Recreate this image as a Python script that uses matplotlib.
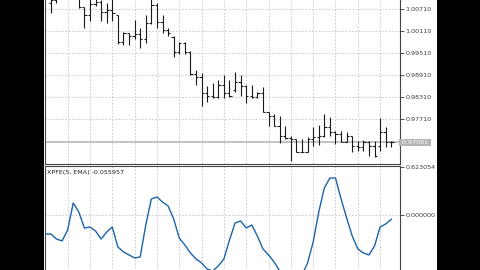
import matplotlib.pyplot as plt
from matplotlib.patches import Rectangle
import numpy as np

# price bars (open/high/low/close), oldest first
opens = [1.0108, 1.00872, 1.00950, 1.0105, 1.0120, 1.0112, 1.0102, 1.00764, 1.00548, 1.00845,
         1.00899, 1.00629, 1.00683, 1.00548, 0.99818, 1.00061, 0.99980, 1.00030, 0.99900, 1.00331,
         1.00820, 1.00358, 1.00150, 0.99960, 0.99548, 0.99791, 0.99548, 0.98950, 0.98870, 0.98413,
         0.98332, 0.98320, 0.98656, 0.98413, 0.98500, 0.98737, 0.98629, 0.98332, 0.98304, 0.98413,
         0.97899, 0.97791, 0.97540, 0.97250, 0.97200, 0.97169, 0.96818, 0.96830, 0.97169, 0.97223,
         0.97250, 0.97494, 0.97358, 0.97304, 0.97088, 0.97250, 0.96980, 0.96953, 0.97088, 0.96980,
         0.96980, 0.97358, 0.97100]
highs = [1.0118, 1.0112, 1.0112, 1.0130, 1.0135, 1.0128, 1.0112, 1.00764, 1.0100, 1.0100,
         1.00960, 1.00872, 1.00970, 1.00548, 1.00088, 1.00061, 1.00412, 1.00196, 1.00548, 1.00980,
         1.00872, 1.00548, 1.00196, 0.99980, 0.99818, 0.99818, 0.99575, 0.99061, 0.98980, 0.98629,
         0.98710, 0.98791, 0.98926, 0.98791, 0.99007, 0.98926, 0.98656, 0.98656, 0.98440, 0.98575,
         0.97899, 0.97845, 0.97791, 0.97521, 0.97250, 0.97169, 0.97169, 0.97223, 0.97494, 0.97548,
         0.97845, 0.97764, 0.97385, 0.97385, 0.97358, 0.97250, 0.97115, 0.97142, 0.97115, 0.97115,
         0.97737, 0.97494, 0.97115]
lows = [1.0098, 1.00602, 1.00872, 1.0102, 1.0108, 1.0098, 1.00737, 1.00196, 1.00385, 1.00791,
        1.00385, 1.00331, 1.00385, 0.99764, 0.99737, 0.99737, 0.99899, 0.99656, 0.99791, 1.00304,
        1.00196, 1.00061, 0.99980, 0.99413, 0.99494, 0.99494, 0.98926, 0.98656, 0.98061, 0.98169,
        0.98277, 0.98277, 0.98277, 0.98304, 0.98440, 0.98332, 0.98142, 0.98277, 0.98277, 0.97899,
        0.97521, 0.97521, 0.97061, 0.97169, 0.96575, 0.96818, 0.96818, 0.96818, 0.96980, 0.97007,
        0.97223, 0.97250, 0.97034, 0.97088, 0.97088, 0.96818, 0.96845, 0.96845, 0.96710, 0.96683,
        0.96845, 0.96953, 0.96953]
closes = [1.0100, 1.00950, 1.0105, 1.0120, 1.0112, 1.0102, 1.00764, 1.00548, 1.00845, 1.00899,
          1.00629, 1.00683, 1.00600, 0.99818, 1.00061, 0.99980, 1.00030, 0.99900, 1.00331, 1.00820,
          1.00358, 1.00150, 1.00061, 0.99548, 0.99791, 0.99548, 0.98950, 0.98870, 0.98413, 0.98332,
          0.98320, 0.98656, 0.98413, 0.98332, 0.98737, 0.98629, 0.98332, 0.98304, 0.98413, 0.97899,
          0.97791, 0.97540, 0.97250, 0.97200, 0.97169, 0.96818, 0.96830, 0.97169, 0.97223, 0.97250,
          0.97494, 0.97358, 0.97304, 0.97088, 0.97250, 0.96980, 0.96953, 0.97088, 0.96980, 0.96710,
          0.97358, 0.97100, 0.97081]

# XPFE(5, EMA) indicator values
xpfe = [-0.247, -0.247, -0.312, -0.337, -0.195, 0.156, 0.039, -0.169, -0.156, -0.208,
        -0.312, -0.221, -0.156, -0.415, -0.480, -0.519, -0.558, -0.545, -0.130, 0.208,
        0.234, 0.169, 0.117, -0.052, -0.299, -0.389, -0.493, -0.571, -0.623, -0.701,
        -0.727, -0.662, -0.571, -0.325, -0.104, -0.078, -0.169, -0.130, -0.273, -0.441,
        -0.519, -0.610, -0.727, -0.805, -0.857, -0.844, -0.779, -0.623, -0.350, 0.039,
        0.350, 0.480, 0.480, 0.208, -0.039, -0.273, -0.441, -0.493, -0.519, -0.402,
        -0.156, -0.117, -0.055957]

price_ticks = [1.00710, 1.00110, 0.99510, 0.98910, 0.98310, 0.97710]
last_price = 0.97081
ind_ticks = [0.623054, 0.0]

W, H = 480, 270
fig = plt.figure(figsize=(4.8, 2.7), dpi=100, facecolor='black')
fig.patches.append(Rectangle((44/W, 0), (437-44)/W, 1, transform=fig.transFigure,
                             facecolor='white', edgecolor='none', zorder=-10))

x = np.arange(len(closes))
xlim = (-0.06, 63.56)
grid_kw = dict(color='#c4c4c4', linestyle=(0, (2, 2)), linewidth=0.6)
txt_col = '#3c3c3c'

# top panel: bars
ax1 = fig.add_axes([45/W, (H-164)/H, 355/W, 164/H])
ax1.set_xlim(xlim)
ax1.set_ylim(0.96494, 1.00955)
ax1.vlines(x, lows, highs, color='#1a1a1a', linewidth=0.8, zorder=3)
ax1.hlines(opens, x-0.4, x, color='#1a1a1a', linewidth=0.8, zorder=3)
ax1.hlines(closes, x, x+0.4, color='#1a1a1a', linewidth=0.8, zorder=3)
ax1.axhline(last_price, color='#b8b8b8', linewidth=1.2, zorder=2)
ax1.set_xticks(range(0, len(closes), 4))
ax1.set_yticks(price_ticks)
ax1.set_yticklabels(['%.5f' % v for v in price_ticks])
ax1.grid(True, **grid_kw)
ax1.yaxis.tick_right()
ax1.tick_params(axis='x', length=0, labelbottom=False)
ax1.tick_params(axis='y', length=3, width=0.6, pad=1, labelsize=4.6,
                colors='#333333', labelcolor=txt_col)
ax1.spines['top'].set_visible(False)
for s in ['left', 'bottom', 'right']:
    ax1.spines[s].set_color('#444444')
    ax1.spines[s].set_linewidth(0.8)
ax1.text(1.0, last_price, ' 0.97081 ', transform=ax1.get_yaxis_transform(),
         fontsize=4.6, color='white', va='center', ha='left', clip_on=False,
         bbox=dict(boxstyle='square,pad=0.15', facecolor='#b4b4b4', edgecolor='none'))

# bottom panel: indicator
ax2 = fig.add_axes([45/W, -20/H, 355/W, 124/H])
ax2.set_xlim(xlim)
ax2.set_ylim(-0.974, 0.636)
ax2.plot(x, xpfe, color='#1c64a8', linewidth=1.0, zorder=3)
ax2.set_xticks(range(0, len(closes), 4))
ax2.grid(True, axis='x', **grid_kw)
ax2.axhline(0, **grid_kw)
ax2.set_yticks(ind_ticks)
ax2.set_yticklabels(['%.6f' % v for v in ind_ticks])
ax2.yaxis.tick_right()
ax2.tick_params(axis='x', length=0, labelbottom=False)
ax2.tick_params(axis='y', length=3, width=0.6, pad=1, labelsize=4.6,
                colors='#333333', labelcolor=txt_col)
for s in ['left', 'top', 'right', 'bottom']:
    ax2.spines[s].set_color('#444444')
    ax2.spines[s].set_linewidth(0.8)
ax2.text(0.006, 0.95, 'XPFE(5, EMA) -0.055957', transform=ax2.transAxes,
         fontsize=4.6, color='#222222', va='center', ha='left')

fig.savefig('out.png', dpi=100, facecolor=fig.get_facecolor())
